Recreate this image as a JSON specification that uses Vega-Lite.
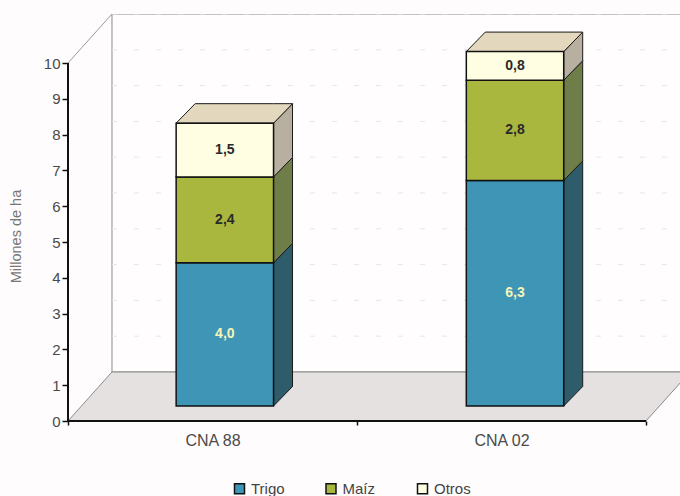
{
  "$schema": "https://vega.github.io/schema/vega-lite/v6.json",
  "width": 612,
  "height": 407,
  "autosize": {"type": "none"},
  "padding": {"left": 68, "top": 14, "right": 0, "bottom": 75},
  "background": "#fefcfd",
  "config": {"view": {"stroke": null}, "font": "Liberation Sans"},
  "datasets": {
    "cultivos": [
      {"censo": "CNA 88", "cultivo": "Trigo", "orden": 1, "valor": 4.0},
      {"censo": "CNA 88", "cultivo": "Maíz", "orden": 2, "valor": 2.4},
      {"censo": "CNA 88", "cultivo": "Otros", "orden": 3, "valor": 1.5},
      {"censo": "CNA 02", "cultivo": "Trigo", "orden": 1, "valor": 6.3},
      {"censo": "CNA 02", "cultivo": "Maíz", "orden": 2, "valor": 2.8},
      {"censo": "CNA 02", "cultivo": "Otros", "orden": 3, "valor": 0.8}
    ],
    "marcas": [
      {"marca": 1}, {"marca": 2}, {"marca": 3}, {"marca": 4}, {"marca": 5},
      {"marca": 6}, {"marca": 7}, {"marca": 8}, {"marca": 9}, {"marca": 10}
    ],
    "piso": [{"plano": "piso"}]
  },
  "layer": [
    {
      "description": "Back wall of the 3D box",
      "data": {"name": "piso"},
      "mark": {"type": "rect", "fill": "#fffdfe", "stroke": "#8a8a8a", "strokeWidth": 1, "clip": true},
      "encoding": {
        "x": {"datum": 0.1522, "type": "quantitative", "scale": {"domain": [0, 2.1176], "nice": false, "zero": false}},
        "x2": {"datum": 2.3},
        "y": {"datum": 1.369, "type": "quantitative", "scale": {"domain": [0, 11.369], "nice": false, "zero": false}},
        "y2": {"datum": 11.369}
      }
    },
    {
      "description": "Faint dotted gridlines on the back wall; this layer also carries both axes",
      "data": {"name": "marcas"},
      "transform": [
        {"calculate": "datum.marca + 1.369", "as": "altura"},
        {"calculate": "0.1522", "as": "inicio"},
        {"calculate": "2.3", "as": "fin"}
      ],
      "mark": {"type": "rule", "stroke": "#e6e6e6", "strokeWidth": 1, "strokeDash": [5, 17], "clip": true},
      "encoding": {
        "x": {"field": "inicio", "type": "quantitative", "scale": {"domain": [0, 2.1176], "nice": false, "zero": false},
          "axis": {
            "title": null, "grid": false, "domain": false,
            "values": [0, 0.5, 1, 1.5, 2],
            "labelExpr": "datum.value === 0.5 ? 'CNA 88' : datum.value === 1.5 ? 'CNA 02' : ''",
            "tickColor": "#111", "tickSize": 4, "tickWidth": 1.5,
            "tickOpacity": {"condition": {"test": "datum.value === 0 || datum.value === 1 || datum.value === 2", "value": 1}, "value": 0},
            "labelColor": "#4a4a4a", "labelFontSize": 16, "labelPadding": 7, "labelFlush": false, "labelOverlap": false
          }},
        "x2": {"field": "fin"},
        "y": {"field": "altura", "type": "quantitative", "scale": {"domain": [0, 11.369], "nice": false, "zero": false},
          "axis": {
            "title": "Millones de ha", "titleFontWeight": "normal", "titleColor": "#777", "titleFontSize": 14.5,
            "titleX": -45, "titleY": 222, "grid": false, "domain": false,
            "values": [0, 1, 2, 3, 4, 5, 6, 7, 8, 9, 10],
            "tickColor": "#111", "tickSize": 6, "tickWidth": 1.5,
            "labelColor": "#4a4a4a", "labelFontSize": 15, "labelPadding": 2, "format": "d"
          }}
      }
    },
    {
      "description": "Floor of the 3D box",
      "data": {"name": "piso"},
      "transform": [
        {"calculate": "[0, 1, 2, 3]", "as": "i"},
        {"flatten": ["i"]},
        {"calculate": "[0, 0.1522, 2, 2.1522][datum.i]", "as": "xp"},
        {"calculate": "datum.i > 0 ? 1.369 : 0", "as": "ya"},
        {"calculate": "datum.i === 3 ? 1.369 : 0", "as": "yb"}
      ],
      "mark": {"type": "area", "orient": "vertical", "fill": "#e5e1e0", "stroke": "#8a8a8a", "strokeWidth": 1, "clip": true},
      "encoding": {
        "x": {"field": "xp", "type": "quantitative", "scale": {"domain": [0, 2.1176], "nice": false, "zero": false}},
        "y": {"field": "ya", "type": "quantitative", "stack": null, "scale": {"domain": [0, 11.369], "nice": false, "zero": false}},
        "y2": {"field": "yb"}
      }
    },
    {
      "description": "Top edge of the left wall",
      "data": {"name": "piso"},
      "mark": {"type": "rule", "stroke": "#9a9a9a", "strokeWidth": 1},
      "encoding": {
        "x": {"datum": 0, "type": "quantitative", "scale": {"domain": [0, 2.1176], "nice": false, "zero": false}},
        "x2": {"datum": 0.1522},
        "y": {"datum": 10, "type": "quantitative", "scale": {"domain": [0, 11.369], "nice": false, "zero": false}},
        "y2": {"datum": 11.369}
      }
    },
    {
      "description": "Value axis line, from 0 to 10",
      "data": {"name": "piso"},
      "mark": {"type": "rule", "stroke": "#111", "strokeWidth": 2},
      "encoding": {
        "x": {"datum": 0, "type": "quantitative", "scale": {"domain": [0, 2.1176], "nice": false, "zero": false}},
        "y": {"datum": 0, "type": "quantitative", "scale": {"domain": [0, 11.369], "nice": false, "zero": false}},
        "y2": {"datum": 10}
      }
    },
    {
      "description": "Category axis line across both censuses",
      "data": {"name": "piso"},
      "mark": {"type": "rule", "stroke": "#111", "strokeWidth": 2},
      "encoding": {
        "x": {"datum": 0, "type": "quantitative", "scale": {"domain": [0, 2.1176], "nice": false, "zero": false}},
        "x2": {"datum": 2},
        "y": {"datum": 0, "type": "quantitative", "scale": {"domain": [0, 11.369], "nice": false, "zero": false}}
      }
    },
    {
      "description": "Stacked bars: projected side and top faces, front face, value labels",
      "data": {"name": "cultivos"},
      "transform": [
        {"stack": "valor", "groupby": ["censo"], "sort": [{"field": "orden", "order": "ascending"}], "as": ["v0", "v1"]},
        {"calculate": "datum.censo === 'CNA 88' ? 0.496 : 1.5", "as": "centro"},
        {"calculate": "datum.centro + 0.0467 - 0.1685", "as": "izq"},
        {"calculate": "datum.centro + 0.0467 + 0.1685", "as": "der"},
        {"calculate": "datum.v0 + 0.419", "as": "base"},
        {"calculate": "datum.v1 + 0.419", "as": "tope"},
        {"calculate": "(datum.base + datum.tope) / 2", "as": "medio"},
        {"calculate": "datum.centro + 0.0467", "as": "xtexto"},
        {"calculate": "replace(format(datum.valor, '.1f'), '.', ',')", "as": "etiqueta"}
      ],
      "resolve": {"scale": {"color": "independent"}},
      "layer": [
        {
          "transform": [
            {"calculate": "[0, 1]", "as": "t"},
            {"flatten": ["t"]},
            {"calculate": "datum.der + datum.t * 0.0657", "as": "xp"},
            {"calculate": "datum.tope + datum.t * 0.545", "as": "ya"},
            {"calculate": "datum.base + datum.t * 0.545", "as": "yb"}
          ],
          "mark": {"type": "area", "orient": "vertical", "stroke": "#1a1a1a", "strokeWidth": 1},
          "encoding": {
            "x": {"field": "xp", "type": "quantitative", "scale": {"domain": [0, 2.1176], "nice": false, "zero": false}},
            "y": {"field": "ya", "type": "quantitative", "stack": null, "scale": {"domain": [0, 11.369], "nice": false, "zero": false}},
            "y2": {"field": "yb"},
            "detail": {"field": "censo"},
            "color": {"field": "cultivo", "type": "nominal", "legend": null,
              "scale": {"domain": ["Trigo", "Maíz", "Otros"], "range": ["#2f5c6b", "#6f7d48", "#b7b0a0"]}}
          }
        },
        {
          "transform": [
            {"filter": "datum.cultivo === 'Otros'"},
            {"calculate": "[0, 1, 2, 3]", "as": "i"},
            {"flatten": ["i"]},
            {"calculate": "[datum.izq, datum.izq + 0.0657, datum.der, datum.der + 0.0657][datum.i]", "as": "xp"},
            {"calculate": "datum.tope + (datum.i > 0 ? 0.545 : 0)", "as": "ya"},
            {"calculate": "datum.tope + (datum.i === 3 ? 0.545 : 0)", "as": "yb"}
          ],
          "mark": {"type": "area", "orient": "vertical", "fill": "#e3d7bd", "stroke": "#1a1a1a", "strokeWidth": 1},
          "encoding": {
            "x": {"field": "xp", "type": "quantitative", "scale": {"domain": [0, 2.1176], "nice": false, "zero": false}},
            "y": {"field": "ya", "type": "quantitative", "stack": null, "scale": {"domain": [0, 11.369], "nice": false, "zero": false}},
            "y2": {"field": "yb"},
            "detail": {"field": "censo"}
          }
        },
        {
          "mark": {"type": "rect", "stroke": "#111", "strokeWidth": 1.5},
          "encoding": {
            "x": {"field": "izq", "type": "quantitative", "scale": {"domain": [0, 2.1176], "nice": false, "zero": false}},
            "x2": {"field": "der"},
            "y": {"field": "base", "type": "quantitative", "scale": {"domain": [0, 11.369], "nice": false, "zero": false}},
            "y2": {"field": "tope"},
            "color": {"field": "cultivo", "type": "nominal",
              "scale": {"domain": ["Trigo", "Maíz", "Otros"], "range": ["#3f95b6", "#a9b73f", "#fffde2"]},
              "legend": {
                "title": null, "orient": "none", "direction": "horizontal", "columns": 3, "gridAlign": "all",
                "legendX": 164, "legendY": 467, "padding": 0,
                "symbolType": "square", "symbolSize": 100, "symbolStrokeColor": "#111", "symbolStrokeWidth": 1.5,
                "labelFontSize": 15, "labelColor": "#444", "labelOffset": 4, "columnPadding": 34.5
              }}
          }
        },
        {
          "mark": {"type": "text", "fontSize": 14, "fontWeight": "bold", "align": "center", "baseline": "middle"},
          "encoding": {
            "x": {"field": "xtexto", "type": "quantitative", "scale": {"domain": [0, 2.1176], "nice": false, "zero": false}},
            "y": {"field": "medio", "type": "quantitative", "scale": {"domain": [0, 11.369], "nice": false, "zero": false}},
            "text": {"field": "etiqueta"},
            "color": {"condition": {"test": "datum.cultivo === 'Trigo'", "value": "#f4f6b8"}, "value": "#2a2a2a"}
          }
        }
      ]
    }
  ]
}
